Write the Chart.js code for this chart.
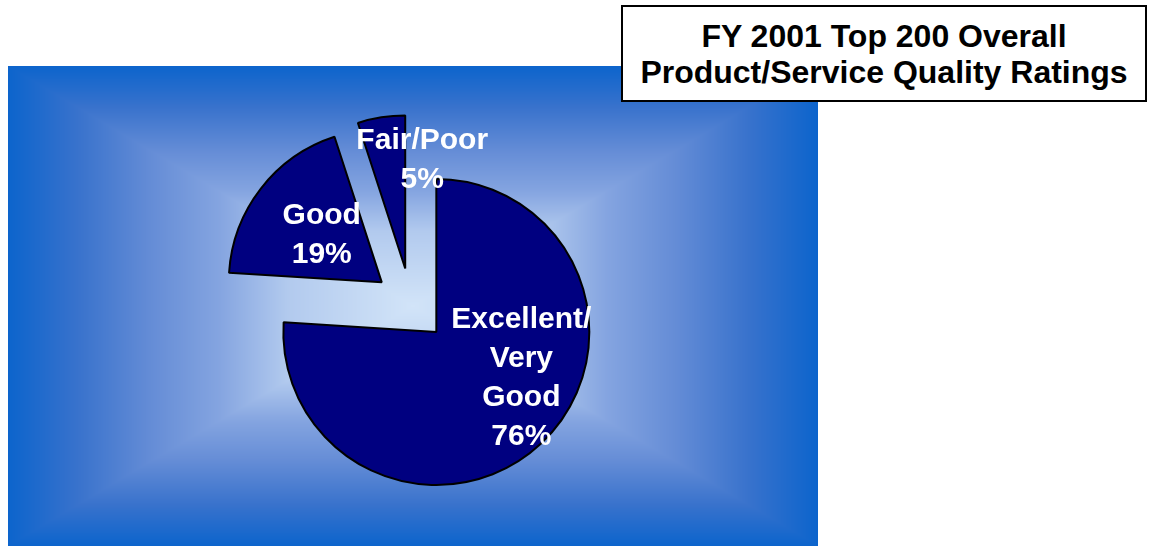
<!DOCTYPE html>
<html>
<head>
<meta charset="utf-8">
<script src="https://cdn.jsdelivr.net/npm/chart.js@4.4.1/dist/chart.umd.min.js"></script>
<style>
  html, body { margin: 0; padding: 0; background: #fff; }
  #wrap { position: relative; width: 1150px; height: 546px; overflow: hidden; }
  #chart { position: absolute; left: 0; top: 0; }
  #title {
    position: absolute; left: 621px; top: 5px; width: 526px; height: 97px;
    box-sizing: border-box; border: 2px solid #000; background: #fff;
    font: bold 32px "Liberation Sans", Arial, sans-serif; color: #000;
    text-align: center; line-height: 36px; padding-top: 11px; z-index: 2;
  }
</style>
</head>
<body>
<div id="wrap">
  <canvas id="chart" width="1150" height="546"></canvas>
  <div id="title">FY 2001 Top 200 Overall<br>Product/Service Quality Ratings</div>
</div>
<script>
"use strict";

/* ---------------- DATA ---------------- */

const categories = ["Excellent/\nVery\nGood", "Good", "Fair/Poor"];
const shares = [76, 19, 5];

/* ---------------- LAYOUT / STYLE ---------------- */

const W = 1150, H = 546;
const PIE_CENTER = { x: 411, y: 305 };
const PIE_RADIUS = 153;
const EXPLODE = 37;                 // every slice pulled out from the centre
const LABEL_SHIFT = [[85, 46], [-60, -47], [17, -108]];  // from each slice's apex
const SLICE_COLOR = "#000080";

const BG = { left: 8, top: 66, right: 818, bottom: 546 };
// rectangular "from centre" gradient, t = 0 at edge, 1 at centre
const BG_STOPS = [
  [0.00, [12, 100, 204]],
  [0.17, [56, 114, 204]],
  [0.35, [100, 140, 214]],
  [0.52, [132, 164, 224]],
  [0.69, [178, 202, 238]],
  [1.00, [210, 228, 248]],
];

/* ---------------- BACKGROUND ---------------- */

function lerpStops(t) {
  for (let i = 1; i < BG_STOPS.length; i++) {
    const [t1, c1] = BG_STOPS[i];
    const [t0, c0] = BG_STOPS[i - 1];
    if (t <= t1) {
      const k = (t - t0) / (t1 - t0);
      return c0.map((v, j) => v + (c1[j] - v) * k);
    }
  }
  return BG_STOPS[BG_STOPS.length - 1][1];
}

function buildBackground() {
  const w = BG.right - BG.left, h = BG.bottom - BG.top;
  const off = document.createElement("canvas");
  off.width = w;
  off.height = h;
  const octx = off.getContext("2d");
  const img = octx.createImageData(w, h);
  const hw = w / 2, hh = h / 2;
  for (let y = 0; y < h; y++) {
    for (let x = 0; x < w; x++) {
      const d = Math.max(Math.abs(x + 0.5 - hw) / hw, Math.abs(y + 0.5 - hh) / hh);
      const c = lerpStops(1 - d);
      const p = (y * w + x) * 4;
      img.data[p] = c[0];
      img.data[p + 1] = c[1];
      img.data[p + 2] = c[2];
      img.data[p + 3] = 255;
    }
  }
  octx.putImageData(img, 0, 0);
  return off;
}

const bgImage = buildBackground();

const backgroundPlugin = {
  id: "boxGradient",
  beforeDraw(chart) {
    chart.ctx.drawImage(bgImage, BG.left, BG.top);
  },
};

/* ---------------- EXPLODE + LABELS ---------------- */

const explodePlugin = {
  id: "explode",
  beforeDatasetsDraw(chart) {
    const meta = chart.getDatasetMeta(0);
    const area = chart.chartArea;
    const cx = (area.left + area.right) / 2 + (meta.controller.offsetX || 0);
    const cy = (area.top + area.bottom) / 2 + (meta.controller.offsetY || 0);
    meta.data.forEach(arc => {
      const mid = (arc.startAngle + arc.endAngle) / 2;
      arc.x = cx + Math.cos(mid) * EXPLODE;
      arc.y = cy + Math.sin(mid) * EXPLODE;
    });
  },
};

const labelPlugin = {
  id: "sliceLabels",
  afterDatasetsDraw(chart) {
    const ctx = chart.ctx;
    const meta = chart.getDatasetMeta(0);
    const lineH = 39;
    ctx.save();
    ctx.fillStyle = "#fff";
    ctx.font = 'bold 30px "Liberation Sans", Arial, sans-serif';
    ctx.textAlign = "center";
    ctx.textBaseline = "middle";
    meta.data.forEach((arc, i) => {
      const lines = categories[i].split("\n").concat(shares[i] + "%");
      const x = arc.x + LABEL_SHIFT[i][0];
      const y0 = arc.y + LABEL_SHIFT[i][1] - (lines.length - 1) * lineH / 2;
      lines.forEach((t, k) => ctx.fillText(t, x, y0 + k * lineH));
    });
    ctx.restore();
  },
};

/* ---------------- CHART ---------------- */

new Chart(document.getElementById("chart"), {
  type: "pie",
  data: {
    labels: categories,
    datasets: [{
      data: shares,
      backgroundColor: SLICE_COLOR,
      borderColor: "#000",
      borderWidth: 2,
      clip: false,
    }],
  },
  options: {
    responsive: false,
    animation: false,
    radius: PIE_RADIUS,
    layout: {
      padding: { left: 0, right: W - 2 * PIE_CENTER.x, top: 2 * PIE_CENTER.y - H, bottom: 0 },
    },
    plugins: {
      legend: { display: false },
      tooltip: { enabled: false },
    },
  },
  plugins: [backgroundPlugin, explodePlugin, labelPlugin],
});
</script>
</body>
</html>
